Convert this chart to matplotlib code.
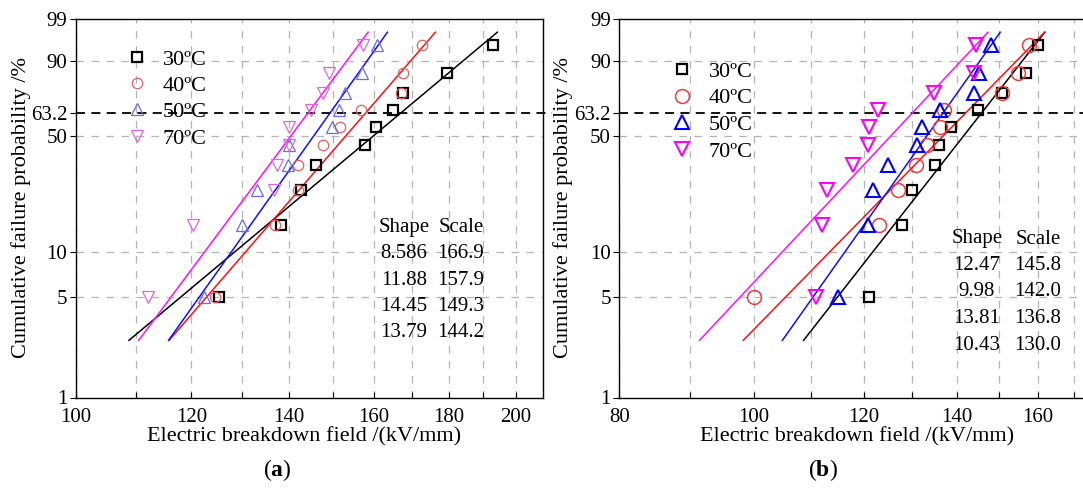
import numpy as np
import matplotlib
matplotlib.use('Agg')
import matplotlib.pyplot as plt
from matplotlib.ticker import FixedLocator, FixedFormatter, NullFormatter, NullLocator

plt.rcParams['font.family'] = ['Liberation Serif', 'DejaVu Serif']
plt.rcParams['mathtext.fontset'] = 'custom'
plt.rcParams['mathtext.rm'] = 'Liberation Serif'
plt.rcParams['mathtext.bf'] = 'Liberation Serif:bold'

# ---------------- data ----------------
prob = [5, 15, 25, 35, 45, 55, 65, 75, 85, 95]          # cumulative failure probability (%)
labels = ['30ºC', '40ºC', '50ºC', '70ºC']

a_30 = [125.4, 138.2, 142.6, 146.0, 157.7, 160.5, 164.9, 167.4, 179.4, 193.1]
a_40 = [124.5, 137.0, 141.9, 142.0, 147.7, 151.6, 156.7, 166.9, 167.5, 172.6]
a_50 = [122.5, 130.0, 133.0, 139.7, 139.9, 149.7, 151.5, 152.9, 156.9, 160.7]
a_70 = [112.0, 120.3, 136.7, 137.3, 139.9, 139.9, 145.0, 147.6, 149.0, 157.3]
a_shape = [8.586, 11.88, 14.45, 13.79]
a_scale = [166.9, 157.9, 149.3, 144.2]

b_30 = [121.0, 127.8, 129.9, 134.9, 135.8, 138.7, 144.9, 150.8, 157.0, 160.0]
b_40 = [100.0, 123.0, 126.9, 130.8, 133.2, 136.0, 137.0, 150.8, 154.9, 157.7]
b_50 = [115.0, 120.8, 121.9, 124.8, 131.1, 132.1, 136.0, 143.9, 145.1, 148.0]
b_70 = [110.8, 112.0, 112.8, 117.8, 120.8, 120.9, 122.9, 134.7, 143.9, 144.5]
b_shape = [12.47, 9.98, 13.81, 10.43]
b_scale = [145.8, 142.0, 136.8, 130.0]

yticks = [1, 5, 10, 50, 63.2, 90, 99]
ytick_labels = ['1', '5', '10', '50', '63.2', '90', '99']
ygrid = [5, 10, 50, 90]
a_xmajor = [100, 120, 140, 160, 180, 200]
a_xminor = [110, 130, 150, 170, 190]
b_xmajor = [80, 100, 120, 140, 160]
b_xminor = [90, 110, 130, 150, 170]
fit_range = [2.5, 97.5]

# ---------------- style ----------------
markers = ['s', 'o', '^', 'v']
line_colors = ['#000000', '#ff1010', '#1010ff', '#ff10ff']
a_mcolors = ['#000000', '#e66060', '#6a6af0', '#e066e0']
b_mcolors = ['#000000', '#f03c3c', '#0000ff', '#ff00ff']
a_msize = [7.0, 7.5, 8.0, 8.0]
a_mew = [1.6, 0.9, 0.9, 0.9]
b_msize = [7.5, 10.0, 10.0, 10.0]
b_mew = [1.6, 1.1, 1.5, 1.5]

W, H = 1083, 488
fig = plt.figure(figsize=(W / 100, H / 100), dpi=100)


def px_axes(l, r, t, b):
    return fig.add_axes([l / W, 1 - b / H, (r - l) / W, (b - t) / H])


def wfwd(p):
    p = np.clip(np.asarray(p, dtype=float), 1e-9, 100 - 1e-9)
    return np.log(-np.log(1 - p / 100.0))


def winv(w):
    return 100.0 * (1 - np.exp(-np.exp(w)))


A_L, A_R = 75.6, 543.0
B_L, B_R = 619.2, 1108.8
T, B = 18.5, 397.5

axa = px_axes(A_L, A_R, T, B)
axb = px_axes(B_L, B_R, T, B)


def setup(ax, xlim, major, minor, ext):
    ax.set_xscale('log')
    ax.set_yscale('function', functions=(wfwd, winv))
    ax.set_xlim(*xlim)
    ax.set_ylim(1, 99)
    ax.xaxis.set_major_locator(FixedLocator(major))
    ax.xaxis.set_major_formatter(FixedFormatter([str(v) for v in major]))
    ax.xaxis.set_minor_locator(FixedLocator(minor))
    ax.xaxis.set_minor_formatter(NullFormatter())
    ax.yaxis.set_major_locator(FixedLocator(yticks))
    ax.yaxis.set_major_formatter(FixedFormatter(ytick_labels))
    ax.yaxis.set_minor_locator(NullLocator())
    ax.set_axisbelow(True)
    ax.grid(axis='x', which='both', color='#b4b4b4', linestyle=(0, (6, 6)), linewidth=0.9)
    for g in ygrid:
        ax.axhline(g, color='#b4b4b4', linestyle=(0, (6, 6)), linewidth=0.9, zorder=0.5)
    ax.axhline(63.2, xmin=0, xmax=ext, color='black', linestyle=(0, (5, 3.5)),
               linewidth=1.3, clip_on=False, zorder=1)
    ax.tick_params(axis='x', which='both', direction='in', length=4, pad=7.5,
                   labelsize=15, width=0.8)
    ax.tick_params(axis='y', which='both', direction='out', length=4, pad=2,
                   labelsize=15, width=0.8)
    for s in ax.spines.values():
        s.set_linewidth(1.0)


setup(axa, (100, 208.8), a_xmajor, a_xminor, (552 - A_L) / (A_R - A_L))
setup(axb, (80, 180), b_xmajor, b_xminor, 1.0)


def draw(ax, series, shapes, scales, mcolors, msize, mew):
    handles = []
    F = np.linspace(fit_range[0], fit_range[1], 60)
    for i, vals in enumerate(series):
        xl = scales[i] * (-np.log(1 - F / 100.0)) ** (1.0 / shapes[i])
        ax.plot(xl, F, color=line_colors[i], linewidth=1.1, zorder=2)
    for i, vals in enumerate(series):
        h, = ax.plot(vals, prob, linestyle='none', marker=markers[i],
                     markersize=msize[i], markerfacecolor='none',
                     markeredgecolor=mcolors[i], markeredgewidth=mew[i],
                     label=labels[i], zorder=3)
        handles.append(h)
    return handles


ha = draw(axa, [a_30, a_40, a_50, a_70], a_shape, a_scale, a_mcolors, a_msize, a_mew)
hb = draw(axb, [b_30, b_40, b_50, b_70], b_shape, b_scale, b_mcolors, b_msize, b_mew)

axa.legend(handles=ha, loc='upper left',
           bbox_to_anchor=((126 - A_L) / (A_R - A_L), (B - 49) / (B - T)),
           frameon=False, fontsize=16, handlelength=1.0, handletextpad=0.65,
           labelspacing=0.26, borderpad=0, borderaxespad=0)
axb.legend(handles=hb, loc='upper left',
           bbox_to_anchor=((671 - B_L) / (B_R - B_L), (B - 61) / (B - T)),
           frameon=False, fontsize=16, handlelength=1.0, handletextpad=0.7,
           labelspacing=0.28, borderpad=0, borderaxespad=0)


def table(ax, l, r, shapes, scales, cx1, cx2, y0, dy):
    def fx(x):
        return (x - l) / (r - l)

    def fy(y):
        return (B - y) / (B - T)

    ax.text(fx(cx1), fy(y0), 'Shape', ha='center', va='center', fontsize=15,
            transform=ax.transAxes)
    ax.text(fx(cx2), fy(y0), 'Scale', ha='center', va='center', fontsize=15,
            transform=ax.transAxes)
    for i, (sh, sc) in enumerate(zip(shapes, scales)):
        y = y0 + dy * (i + 1)
        ax.text(fx(cx1), fy(y), f'{sh:.4g}', ha='center', va='center', fontsize=15,
                transform=ax.transAxes)
        ax.text(fx(cx2), fy(y), f'{sc:.1f}', ha='center', va='center', fontsize=15,
                transform=ax.transAxes)


table(axa, A_L, A_R, a_shape, a_scale, 404, 461, 227.5, 26.3)
table(axb, B_L, B_R, b_shape, b_scale, 977, 1038, 239, 26.5)

for ax, l, r, xc, yl in [(axa, A_L, A_R, 304.5, 31), (axb, B_L, B_R, 857, 573)]:
    ax.set_xlabel('Electric breakdown field /(kV/mm)', fontsize=16)
    ax.set_ylabel('Cumulative failure probability /%', fontsize=16)
    ax.xaxis.set_label_coords((xc - l) / (r - l), (B - 427) / (B - T))
    ax.yaxis.set_label_coords((yl - l) / (r - l), 0.5)

fig.text(277 / W, 1 - 470 / H, r'($\mathbf{a}$)', ha='center', va='center', fontsize=17)
fig.text(823 / W, 1 - 470 / H, r'($\mathbf{b}$)', ha='center', va='center', fontsize=17)

fig.savefig('out.png', dpi=100)
